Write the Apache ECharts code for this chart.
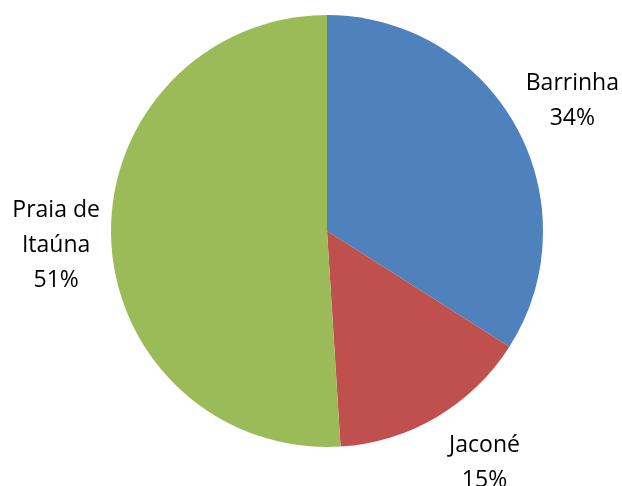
<!DOCTYPE html>
<html>
<head>
<meta charset="utf-8">
<script src="https://cdn.jsdelivr.net/npm/echarts@6/dist/echarts.min.js"></script>
<style>
html,body{margin:0;padding:0;background:#fff;}
#c{width:622px;height:486px;}
</style>
</head>
<body>
<div id="c"></div>
<script>
const categories = ['Barrinha', 'Jaconé', 'Praia de Itaúna'];
const values = [34, 15, 51];
const colors = ['#4F81BD', '#C0504D', '#9BBB59'];

// label nudges (style only)
const labelNudge = [[0, 5], [15, -9], [9, 6]];

const data = categories.map((n, i) => ({ name: n, value: values[i] }));
const labelData = categories.map((n, i) => ({ name: n, value: values[i], label: { offset: labelNudge[i] } }));
const chart = echarts.init(document.getElementById('c'), null, { renderer: 'canvas' });
chart.setOption({
  animation: false,
  backgroundColor: '#ffffff',
  color: colors,
  series: [
    {
      type: 'pie',
      center: [327, 231],
      radius: 216,
      startAngle: 90,
      clockwise: true,
      silent: true,
      label: { show: false },
      labelLine: { show: false },
      itemStyle: { borderWidth: 0 },
      data: data
    },
    {
      type: 'pie',
      center: [327, 231],
      radius: [0, 554],
      startAngle: 90,
      clockwise: true,
      silent: true,
      z: 3,
      itemStyle: { color: 'rgba(0,0,0,0)', borderWidth: 0 },
      labelLine: { show: false },
      label: {
        show: true,
        position: 'inside',
        rotate: 0,
        color: '#000',
        fontFamily: 'Open Sans',
        fontSize: 23,
        lineHeight: 35,
        align: 'center',
        formatter: p => p.name.replace(' de ', ' de\n') + '\n' + Math.round(p.percent) + '%'
      },
      data: labelData
    }
  ]
});
</script>
</body>
</html>
